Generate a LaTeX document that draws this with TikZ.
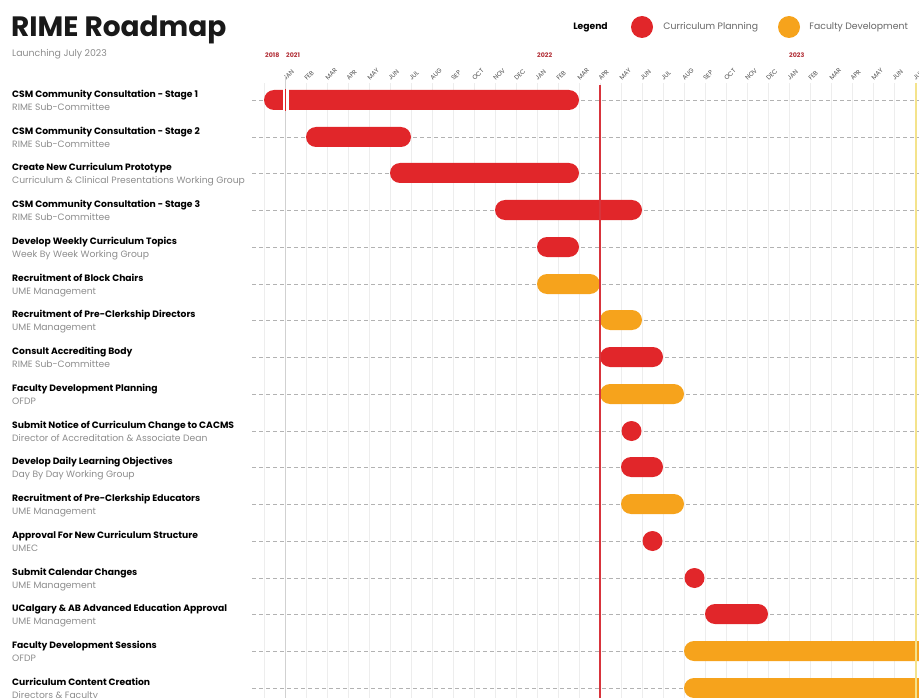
\documentclass[tikz,border=0pt]{standalone}
\usepackage{fontspec}
\setmainfont{Poppins}
\usetikzlibrary{positioning}
\definecolor{rimered}{HTML}{E1262A}
\definecolor{rimeorange}{HTML}{F6A31C}
\definecolor{yearred}{HTML}{B23038}
\definecolor{subgray}{HTML}{8C8C8C}
\definecolor{todayred}{HTML}{D8343C}
\definecolor{launchyellow}{HTML}{F4E38C}
\newcommand{\task}[2]{\begin{tabular}{@{}l@{}}\textbf{#1}\\\textcolor{subgray}{#2}\end{tabular}}
\newcommand{\taskbar}[4]{\fill[#1,rounded corners=10pt] ({285+21*(#3)},#2-10) rectangle ({285+21*(#4)},#2+10);}
\newcommand{\taskdot}[3]{\fill[#1] ({285+21*(#3)},#2) circle (10pt);}

\begin{document}
\begin{tikzpicture}[x=1pt,y=-1pt]
  \tikzset{lbl/.style={anchor=west,inner sep=0pt,font=\fontsize{9.2}{13}\selectfont},
           monthlbl/.style={anchor=south west,rotate=45,inner sep=0pt,font=\fontsize{6.3}{7}\selectfont,text=black!70},
           yearlbl/.style={anchor=base west,inner sep=0pt,font=\fontsize{6.3}{7}\selectfont\bfseries,text=yearred},
           monthline/.style={black!7,line width=0.8pt},
           rowline/.style={black!30,dash pattern=on 4pt off 3pt,line width=0.8pt},
           legdot/.style={circle,inner sep=0pt,minimum size=22pt},
           legtxt/.style={anchor=west,inner sep=0pt,font=\fontsize{9.3}{11}\selectfont,text=black!60}}
  \useasboundingbox (0,0) rectangle (919,698);
  \clip (0,0) rectangle (919,698);

  \node[anchor=base west,inner sep=0pt,font=\fontsize{28}{31}\selectfont\bfseries,text=black!90] (title) at (11,37) {RIME Roadmap};
  \node[anchor=base west,inner sep=0pt,font=\fontsize{9.4}{11}\selectfont,text=black!45] (launch) at (12,57) {Launching July 2023};

  \node[font=\fontsize{9.2}{11}\selectfont\bfseries,inner sep=0pt] (legend) at (590.5,27) {Legend};
  \node[legdot,fill=rimered] (legplan) at (642,27) {};
  \node[legtxt,right=10pt of legplan] (legplantxt) {Curriculum Planning};
  \node[legdot,fill=rimeorange] (legfac) at (789,27) {};
  \node[legtxt,right=9pt of legfac] (legfactxt) {Faculty Development};

  \node[yearlbl] (y2018) at (265,58) {2018};
  \node[yearlbl] (y2021) at (286,58) {2021};
  \node[yearlbl] (y2022) at (537,58) {2022};
  \node[yearlbl] (y2023) at (789,58) {2023};
  \foreach \m [count=\i from 0] in {JAN,FEB,MAR,APR,MAY,JUN,JUL,AUG,SEP,OCT,NOV,DEC,
                                     JAN,FEB,MAR,APR,MAY,JUN,JUL,AUG,SEP,OCT,NOV,DEC,
                                     JAN,FEB,MAR,APR,MAY,JUN,JUL}
    \node[monthlbl] (m\i) at ({286+21*\i},81) {\m};

  \foreach \i in {-1,1,2,...,29}
    \draw[monthline] ({285+21*\i},83) -- ({285+21*\i},698);
  \draw[black!18,line width=1pt] (285,76) -- (285,698);

  \foreach \y in {100,137,173,210,247,284,320,357,394,431,467,504,541,578,614,651,688}
    \draw[rowline] (252,\y) -- (919,\y);

  \node[lbl] (r1) at (12,101.5) {\task{CSM Community Consultation - Stage 1}{RIME Sub-Committee}};
  \node[lbl] (r2) at (12,138.5) {\task{CSM Community Consultation - Stage 2}{RIME Sub-Committee}};
  \node[lbl] (r3) at (12,174.5) {\task{Create New Curriculum Prototype}{Curriculum \& Clinical Presentations Working Group}};
  \node[lbl] (r4) at (12,211.5) {\task{CSM Community Consultation - Stage 3}{RIME Sub-Committee}};
  \node[lbl] (r5) at (12,248.5) {\task{Develop Weekly Curriculum Topics}{Week By Week Working Group}};
  \node[lbl] (r6) at (12,285.5) {\task{Recruitment of Block Chairs}{UME Management}};
  \node[lbl] (r7) at (12,321.5) {\task{Recruitment of Pre-Clerkship Directors}{UME Management}};
  \node[lbl] (r8) at (12,358.5) {\task{Consult Accrediting Body}{RIME Sub-Committee}};
  \node[lbl] (r9) at (12,395.5) {\task{Faculty Development Planning}{OFDP}};
  \node[lbl] (r10) at (12,432.5) {\task{Submit Notice of Curriculum Change to CACMS}{Director of Accreditation \& Associate Dean}};
  \node[lbl] (r11) at (12,468.5) {\task{Develop Daily Learning Objectives}{Day By Day Working Group}};
  \node[lbl] (r12) at (12,505.5) {\task{Recruitment of Pre-Clerkship Educators}{UME Management}};
  \node[lbl] (r13) at (12,542.5) {\task{Approval For New Curriculum Structure}{UMEC}};
  \node[lbl] (r14) at (12,579.5) {\task{Submit Calendar Changes}{UME Management}};
  \node[lbl] (r15) at (12,615.5) {\task{UCalgary \& AB Advanced Education Approval}{UME Management}};
  \node[lbl] (r16) at (12,652.5) {\task{Faculty Development Sessions}{OFDP}};
  \node[lbl] (r17) at (12,689.5) {\task{Curriculum Content Creation}{Directors \& Faculty}};

  \taskbar{rimered}{100}{-1}{14}
  \fill[white] (282.5,89) rectangle (289,111);
  \draw[rimered,line width=1.2pt] (285.8,89) -- (285.8,111);
  \taskbar{rimered}{137}{1}{6}
  \taskbar{rimered}{173}{5}{14}
  \taskbar{rimered}{210}{10}{17}
  \taskbar{rimered}{247}{12}{14}
  \taskbar{rimeorange}{284}{12}{15}
  \taskbar{rimeorange}{320}{15}{17}
  \taskbar{rimered}{357}{15}{18}
  \taskbar{rimeorange}{394}{15}{19}
  \taskdot{rimered}{431}{16.5}
  \taskbar{rimered}{467}{16}{18}
  \taskbar{rimeorange}{504}{16}{19}
  \taskdot{rimered}{541}{17.5}
  \taskdot{rimered}{578}{19.5}
  \taskbar{rimered}{614}{20}{23}
  \taskbar{rimeorange}{651}{19}{32}
  \taskbar{rimeorange}{688}{19}{32}

  \draw[todayred,line width=1.1pt] (600,85) -- (600,698);
  \draw[launchyellow,line width=2.5pt] (916,83) -- (916,698);
\end{tikzpicture}
\end{document}
